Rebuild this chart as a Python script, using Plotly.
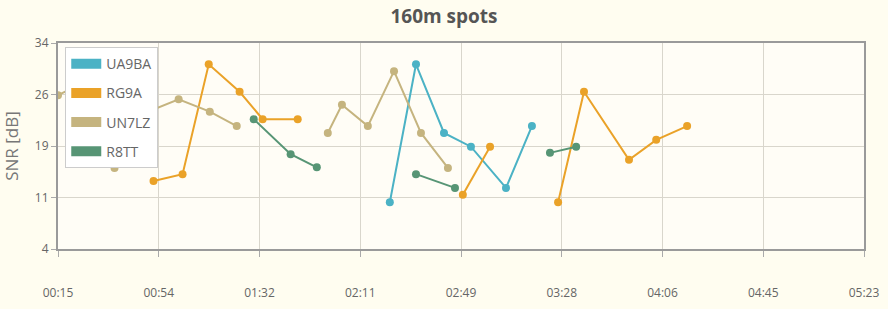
import plotly.graph_objects as go

# Time in minutes after 00:00 UTC; None breaks the line between separate runs
ua9ba_t = [141.8, 151.8, 162.5, 172.8, 186.2, 196.1]
ua9ba_snr = [10.8, 30.9, 20.9, 18.9, 12.9, 21.9]

rg9a_t = [51.5, 62.6, 72.6, 84.4, 93.2, 106.6, None, 169.7, 180.1, None, 206.1, 216.0, 233.2, 243.6, 255.4]
rg9a_snr = [13.9, 14.9, 30.9, 26.9, 22.9, 22.9, None, 11.9, 18.9, None, 10.8, 26.9, 17.0, 19.9, 21.9]

un7lz_t = [15.0, 30.9, 36.6, 46.2, 61.1, 73.0, 83.3, None, 118.1, 123.5, 133.4, 143.4, 153.7, 164.0]
un7lz_snr = [26.4, 29.3, 15.8, 23.5, 25.8, 24.0, 21.9, None, 20.9, 25.0, 21.9, 29.9, 20.9, 15.8]

r8tt_t = [89.8, 103.9, 113.9, None, 151.8, 166.7, None, 203.0, 213.0]
r8tt_snr = [22.9, 17.8, 15.9, None, 14.9, 12.9, None, 18.0, 18.9]

series = [
    ("UA9BA", ua9ba_t, ua9ba_snr, "#4bb2c5"),
    ("RG9A", rg9a_t, rg9a_snr, "#eaa228"),
    ("UN7LZ", un7lz_t, un7lz_snr, "#c5b47f"),
    ("R8TT", r8tt_t, r8tt_snr, "#579575"),
]

x_tick_vals = [15, 53.5, 92, 130.5, 169, 207.5, 246, 284.5, 323]
x_tick_text = ["00:15", "00:54", "01:32", "02:11", "02:49", "03:28", "04:06", "04:45", "05:23"]
y_tick_vals = [4, 11.5, 19, 26.5, 34]
y_tick_text = ["4", "11", "19", "26", "34"]

fig = go.Figure()
for name, t, v, c in series:
    fig.add_trace(go.Scatter(
        x=t, y=v, mode="lines+markers", name=name, showlegend=False,
        line=dict(color=c, width=2), marker=dict(color=c, size=8),
        connectgaps=False, cliponaxis=True,
    ))
for i, (name, t, v, c) in enumerate(series):
    fig.add_trace(go.Scatter(
        x=[None], y=[None], mode="lines", name=name, legendgroup=str(i),
        line=dict(color=c, width=10),
    ))

font_family = "Open Sans, DejaVu Sans, sans-serif"
fig.update_layout(
    width=888, height=309,
    margin=dict(l=58, r=24, t=43, b=60),
    paper_bgcolor="#fffdf0",
    plot_bgcolor="#fffdf6",
    font=dict(family=font_family, color="#666666", size=12),
    title=dict(text="<b>160m spots</b>", x=0.5, xref="container", xanchor="center",
               y=0.948, yref="container", yanchor="middle",
               font=dict(size=19, color="#555555", family=font_family)),
    showlegend=True,
    legend=dict(
        x=0.009, y=0.98, xanchor="left", yanchor="top",
        bgcolor="#ffffff", bordercolor="#cccccc", borderwidth=1,
        font=dict(size=14, color="#666666"),
        tracegroupgap=8, itemwidth=30,
    ),
    xaxis=dict(
        range=[15, 323], tickmode="array", tickvals=x_tick_vals, ticktext=x_tick_text,
        showgrid=True, gridcolor="#d9d6cc", gridwidth=1,
        showline=True, linecolor="#9a9a9a", linewidth=2, mirror=True,
        ticks="outside", ticklen=6, tickcolor="#aaaaaa",
        ticklabelstandoff=26, zeroline=False, automargin=False,
        tickfont=dict(size=12, color="#666666"),
    ),
    yaxis=dict(
        range=[4, 34], tickmode="array", tickvals=y_tick_vals, ticktext=y_tick_text,
        showgrid=True, gridcolor="#d9d6cc", gridwidth=1,
        showline=True, linecolor="#9a9a9a", linewidth=2, mirror=True,
        ticks="outside", ticklen=5, tickcolor="#aaaaaa", zeroline=False, automargin=False,
        title=dict(text="SNR [dB]", font=dict(size=17, color="#777777"), standoff=12),
        tickfont=dict(size=12, color="#666666"),
    ),
)

fig.write_html("out.html")
